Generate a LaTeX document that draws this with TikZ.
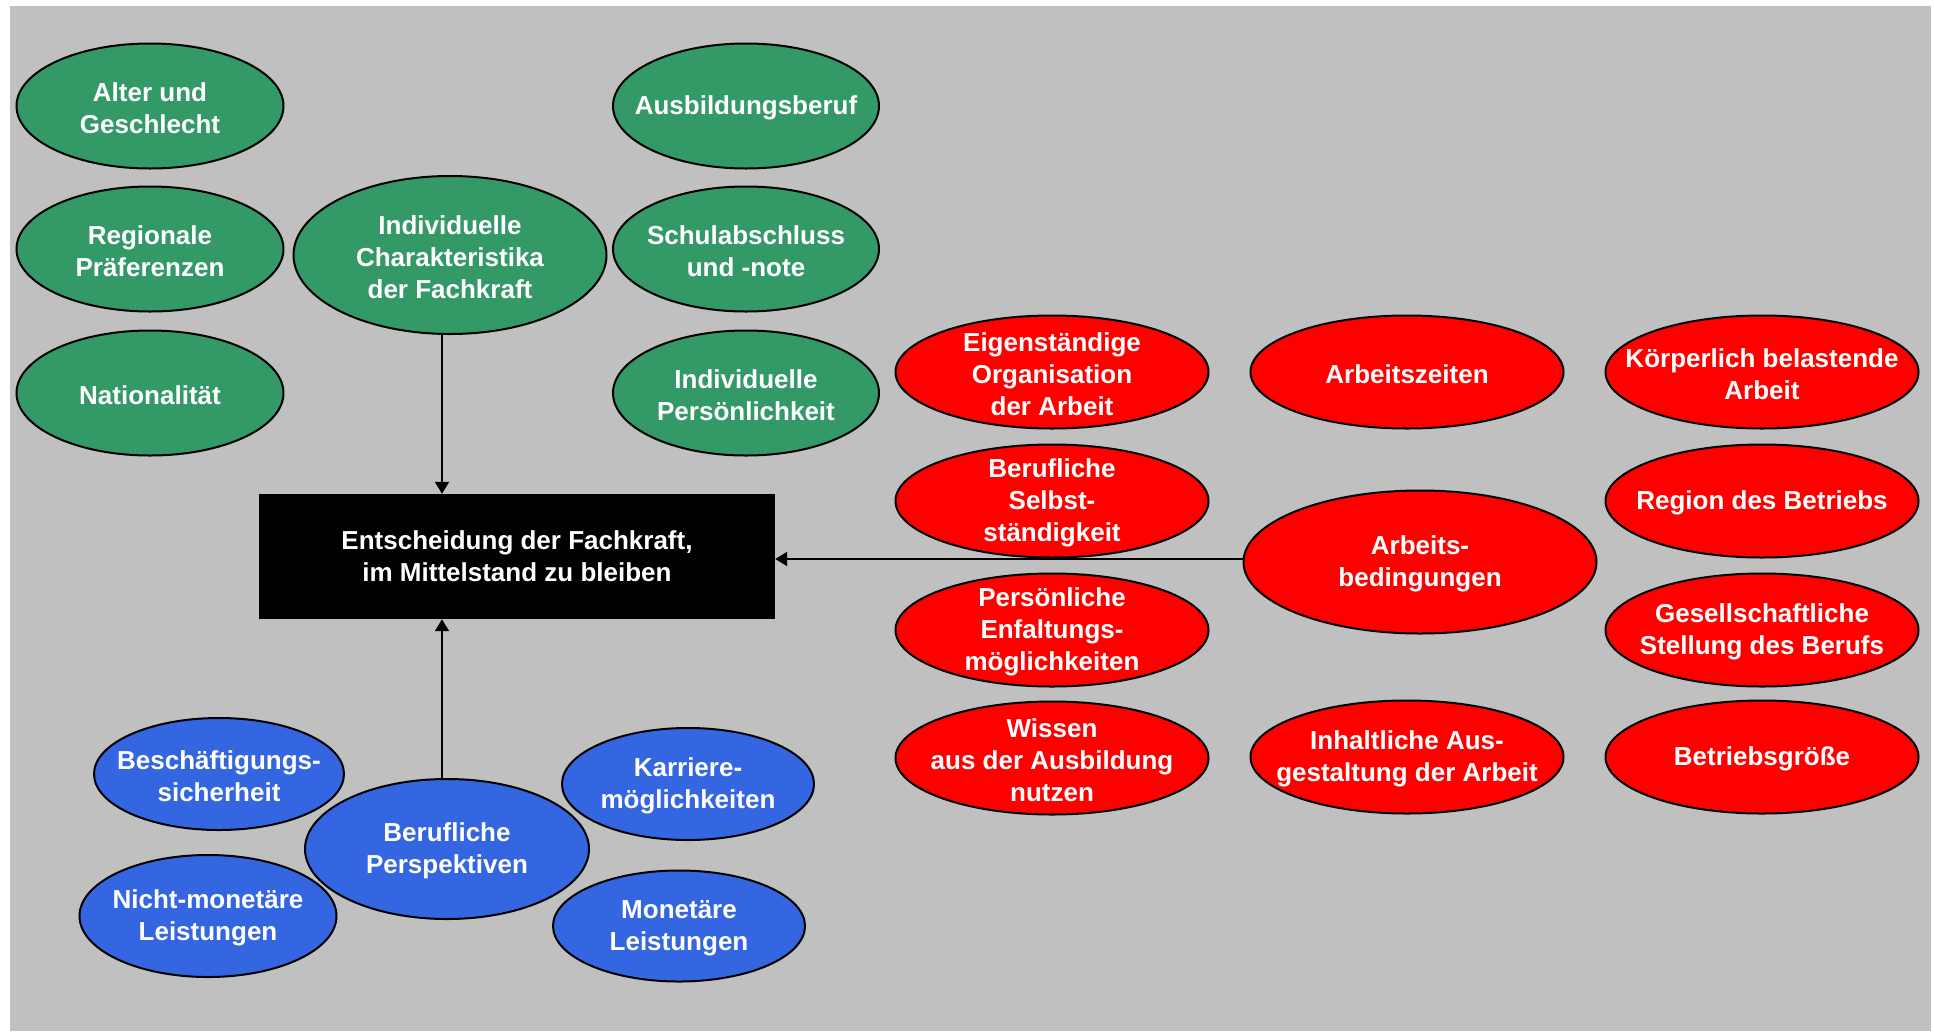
\documentclass[tikz,border=0pt]{standalone}
\usepackage{fontspec}
\setmainfont{Liberation Sans}
\usetikzlibrary{shapes.geometric,arrows.meta}
\definecolor{bggrey}{HTML}{C0C0C0}
\definecolor{ngreen}{HTML}{339966}
\definecolor{nred}{HTML}{FF0000}
\definecolor{nblue}{HTML}{3366E0}
\begin{document}
\begin{tikzpicture}[x=1pt,y=-1pt,
  ell/.style={ellipse, draw=black, line width=2pt, inner sep=0pt},
  lab/.style={text=white, font=\fontsize{26}{32}\selectfont\bfseries, align=center, inner sep=0pt, yshift=-2pt},
  gell/.style={ell, fill=ngreen},
  rell/.style={ell, fill=nred},
  bell/.style={ell, fill=nblue},
  sz/.style 2 args={minimum width=#1pt, minimum height=#2pt},
  arr/.style={line width=2pt, -{Triangle[length=12pt,width=14pt]}}
]
\useasboundingbox (0,0) rectangle (1934,1031);
\fill[bggrey] (10,6) rectangle (1931,1031);

% green
\node[gell, sz={267}{125}, label={[lab]center:{Alter und\\Geschlecht}}] (alter) at (150,106) {};
\node[gell, sz={267}{125}, label={[lab]center:{Regionale\\Präferenzen}}] (regio) at (150,249) {};
\node[gell, sz={267}{125}, label={[lab]center:{Nationalität}}] (natio) at (150,393) {};
\node[gell, sz={313}{158}, label={[lab]center:{Individuelle\\Charakteristika\\der Fachkraft}}] (ind) at (450,255) {};
\node[gell, sz={266}{125}, label={[lab]center:{Ausbildungsberuf}}] (ausb) at (746,106) {};
\node[gell, sz={266}{125}, label={[lab]center:{Schulabschluss\\und -note}}] (schul) at (746,249) {};
\node[gell, sz={266}{125}, label={[lab]center:{Individuelle\\Persönlichkeit}}] (pers) at (746,393) {};

% red
\node[rell, sz={313}{113}, label={[lab]center:{Eigenständige\\Organisation\\der Arbeit}}] (eigen) at (1052,372) {};
\node[rell, sz={313}{113}, label={[lab]center:{Arbeitszeiten}}] (azeit) at (1407,372) {};
\node[rell, sz={313}{113}, label={[lab]center:{Körperlich belastende\\Arbeit}}] (koerp) at (1762,372) {};
\node[rell, sz={313}{113}, label={[lab]center:{Berufliche\\Selbst-\\ständigkeit}}] (selbst) at (1052,501) {};
\node[rell, sz={353}{143}, label={[lab]center:{Arbeits-\\bedingungen}}] (arb) at (1420,562) {};
\node[rell, sz={313}{113}, label={[lab]center:{Region des Betriebs}}] (region) at (1762,501) {};
\node[rell, sz={313}{113}, label={[lab]center:{Persönliche\\Enfaltungs-\\möglichkeiten}}] (entf) at (1052,630) {};
\node[rell, sz={313}{113}, label={[lab]center:{Gesellschaftliche\\Stellung des Berufs}}] (gesell) at (1762,630) {};
\node[rell, sz={313}{113}, label={[lab]center:{Wissen\\aus der Ausbildung\\nutzen}}] (wissen) at (1052,758) {};
\node[rell, sz={313}{113}, label={[lab]center:{Inhaltliche Aus-\\gestaltung der Arbeit}}] (inhalt) at (1407,757) {};
\node[rell, sz={313}{113}, label={[lab]center:{Betriebsgröße}}] (groesse) at (1762,757) {};

% blue
\node[bell, sz={250}{112}, label={[lab]center:{Beschäftigungs-\\sicherheit}}] (besch) at (219,774) {};
\node[bell, sz={252}{112}, label={[lab]center:{Karriere-\\möglichkeiten}}] (karr) at (688,784) {};
\node[bell, sz={284}{140}, label={[lab]center:{Berufliche\\Perspektiven}}] (persp) at (447,849) {};
\node[bell, sz={257}{122}, label={[lab]center:{Nicht-monetäre\\Leistungen}}] (nicht) at (208,916) {};
\node[bell, sz={252}{111}, label={[lab]center:{Monetäre\\Leistungen}}] (monet) at (679,926) {};

% central box
\node[fill=black, minimum width=516pt, minimum height=125pt, inner sep=0pt, text=white,
      font=\fontsize{26}{32}\selectfont\bfseries, align=center, text depth=0pt] (box) at (517,556.5)
      {Entscheidung der Fachkraft,\\im Mittelstand zu bleiben};

% connectors
\coordinate (ax) at (442,559);
\draw[arr] (ind.south -| ax) -- (box.north -| ax);
\draw[arr] (persp.north -| ax) -- (box.south -| ax);
\draw[arr] (arb.west |- ax) -- (box.east |- ax);
\end{tikzpicture}
\end{document}
